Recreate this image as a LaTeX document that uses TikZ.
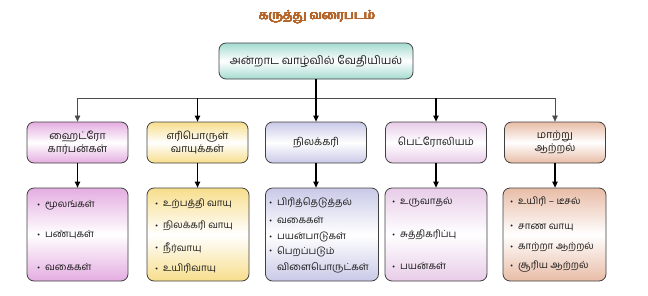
\documentclass[tikz,border=0pt]{standalone}
\usepackage{fontspec}
\usepackage{contour}
\setmainfont[Script=Tamil]{Hind Madurai}
\usetikzlibrary{arrows.meta}
\definecolor{tealc}{HTML}{A4DBD0}
\definecolor{pinkc}{HTML}{E4ADE1}
\definecolor{yelc}{HTML}{F7DE8C}
\definecolor{lavc}{HTML}{C9C9E8}
\definecolor{petc}{HTML}{E8CCE8}
\definecolor{peachc}{HTML}{E8BCA6}
\definecolor{titlec}{HTML}{B5652A}
\contourlength{0.3pt}
\contournumber{16}
\newcommand{\bul}{\makebox[8pt][l]{\raisebox{0.3pt}{\scalebox{0.72}{\textbullet}}}}
\begin{document}
\begin{tikzpicture}[x=1pt,y=-1pt,
  fbox/.style={draw=black!75, line width=0.8pt, rounded corners=7pt, inner sep=2pt, align=center, text=black!90},
  catbox/.style={fbox, minimum width=101pt, minimum height=41pt, font=\fontsize{10.5}{13}\selectfont, top color=#1, bottom color=#1, middle color=white},
  listbox/.style={fbox, minimum height=93pt, top color=#1, bottom color=#1, middle color=white},
  item/.style={anchor=west, inner sep=0pt, font=\fontsize{9.8}{12}\selectfont, text=black!90, align=left},
  thinline/.style={draw=black!70, line width=0.6pt},
  thickline/.style={draw=black, line width=1.2pt},
  tip/.style={-{Triangle[length=6pt,width=5.5pt]}}
]
\useasboundingbox (0,0) rectangle (648,295);
\node[text=titlec, font=\fontsize{12.5}{14}\selectfont] (title) at (317,17) {\contour{titlec}{கருத்து வரைபடம்}};
\node[fbox, minimum width=194pt, minimum height=36pt, top color=tealc, bottom color=tealc, middle color=white, font=\fontsize{11.3}{13}\selectfont] (top) at (316,61) {அன்றாட வாழ்வில் வேதியியல்};

\node[catbox=pinkc] (c1) at (77.5,142.5) {ஹைட்ரோ\\கார்பன்கள்};
\node[catbox=yelc] (c2) at (197.5,142.5) {எரிபொருள்\\வாயுக்கள்};
\node[catbox=lavc] (c3) at (316,142.5) {நிலக்கரி};
\node[catbox=petc] (c4) at (436,142.5) {பெட்ரோலியம்};
\node[catbox=peachc] (c5) at (555,142.5) {மாற்று\\ஆற்றல்};

\node[listbox=pinkc, minimum width=101pt] (b1) at (77.5,234.5) {};
\node[listbox=yelc, minimum width=102pt] (b2) at (198,234.5) {};
\node[listbox=lavc, minimum width=113pt] (b3) at (322,234.5) {};
\node[listbox=petc, minimum width=102pt] (b4) at (436,234.5) {};
\node[listbox=peachc, minimum width=103pt] (b5) at (554.5,234.5) {};

\coordinate (hub) at (316,98);
\coordinate (hl) at (77.5,98);
\coordinate (hr) at (555,98);
\draw[thinline] (hl) -- (hr);
\draw[thickline] (top.south) -- (hub);
\draw[thinline,tip] (hl) -- (c1.north);
\draw[thinline,tip] (hr) -- (c5.north);
\draw[thickline,tip] (c2.north |- hub) -- (c2.north);
\draw[thickline,tip] (hub) -- (c3.north);
\draw[thickline,tip] (c4.north |- hub) -- (c4.north);
\draw[thickline,tip] (c1.south) -- (c1.south |- b1.north);
\draw[thickline,tip] (c2.south) -- (c2.south |- b2.north);
\draw[thickline,tip] (c3.south) -- (c3.south |- b3.north);
\draw[thickline,tip] (c4.south) -- (c4.south |- b4.north);
\draw[thickline,tip] (c5.south) -- (c5.south |- b5.north);

\node[item] (i11) at (37,205) {\bul மூலங்கள்};
\node[item] (i12) at (37,235) {\bul பண்புகள்};
\node[item] (i13) at (37,267) {\bul வகைகள்};

\node[item] (i21) at (155,204) {\bul உற்பத்தி வாயு};
\node[item] (i22) at (155,226) {\bul நிலக்கரி வாயு};
\node[item] (i23) at (155,248) {\bul நீர்வாயு};
\node[item] (i24) at (155,269) {\bul உயிரிவாயு};

\node[item] (i31) at (269,203) {\bul பிரித்தெடுத்தல்};
\node[item] (i32) at (269,220) {\bul வகைகள்};
\node[item] (i33) at (269,237) {\bul பயன்பாடுகள்};
\node[item, anchor=north west, font=\fontsize{9.8}{16}\selectfont] (i34) at (269,246) {\bul பெறப்படும்\\\hspace*{8pt}விளைபொருட்கள்};

\node[item] (i41) at (392,202) {\bul உருவாதல்};
\node[item] (i42) at (392,235) {\bul சுத்திகரிப்பு};
\node[item] (i43) at (392,266) {\bul பயன்கள்};

\node[item] (i51) at (510,202) {\bul உயிரி – டீசல்};
\node[item] (i52) at (510,227) {\bul சாண வாயு};
\node[item] (i53) at (510,247) {\bul காற்றா ஆற்றல்};
\node[item] (i54) at (510,267) {\bul சூரிய ஆற்றல்};
\end{tikzpicture}
\end{document}
